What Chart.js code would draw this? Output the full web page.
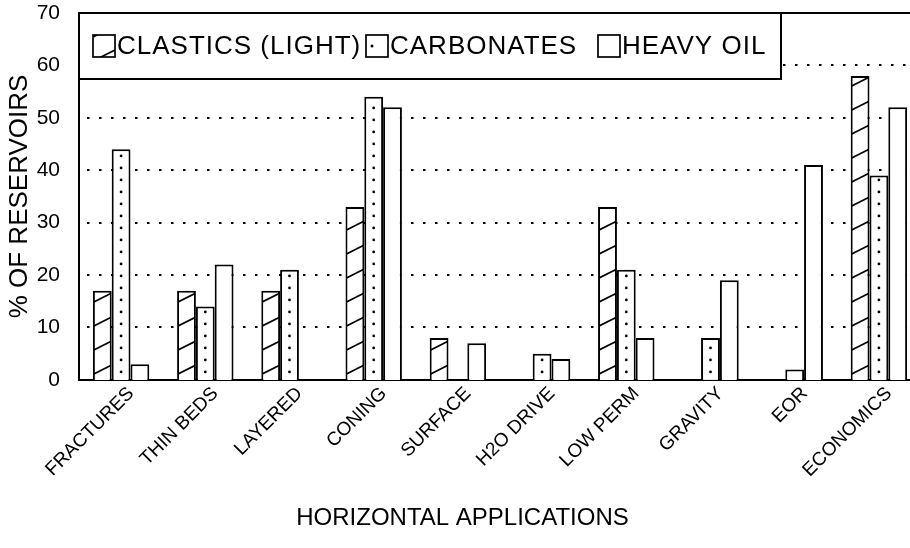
<!DOCTYPE html>
<html>
<head>
<meta charset="utf-8">
<script src="https://cdn.jsdelivr.net/npm/chart.js@4.4.1/dist/chart.umd.min.js"></script>
<style>
  html, body { margin: 0; padding: 0; background: #fff; overflow: hidden; }
  #wrap { width: 910px; height: 548px; overflow: hidden; }
</style>
</head>
<body>
<div id="wrap"><canvas id="chart" width="921" height="548"></canvas></div>
<script>
// values (% of reservoirs)
var categories = ['FRACTURES', 'THIN BEDS', 'LAYERED', 'CONING', 'SURFACE', 'H2O DRIVE', 'LOW PERM', 'GRAVITY', 'EOR', 'ECONOMICS'];
var clastics = [17, 17, 17, 33, 8, 0, 33, 0, 0, 58];
var carbonates = [44, 14, 21, 54, 0, 5, 21, 8, 2, 39];
var heavyOil = [3, 22, 0, 52, 7, 4, 8, 19, 41, 52];
var seriesNames = ['CLASTICS (LIGHT)', 'CARBONATES', 'HEAVY OIL'];
var seriesFills = ['hatch', 'dots', 'plain'];
var yMax = 70;
var yStep = 10;

var FONT = "'Liberation Sans', Arial, sans-serif";
Chart.defaults.font.family = FONT;
Chart.defaults.color = '#000';

function drawHatch(ctx, left, top, right, bottom, base) {
    ctx.save();
    ctx.beginPath();
    ctx.rect(left, top, right - left, bottom - top);
    ctx.clip();
    ctx.strokeStyle = '#000';
    ctx.lineWidth = 1.7;
    ctx.beginPath();
    var w = right - left;
    for (var y = base - 6; y > top - 20; y -= 24) {
        ctx.moveTo(left, y);
        ctx.lineTo(right, y - w * 0.5);
    }
    ctx.stroke();
    ctx.restore();
}

function drawDots(ctx, cx, top, bottom) {
    ctx.save();
    ctx.fillStyle = '#000';
    for (var y = bottom - 8; y > top + 4; y -= 12) {
        ctx.beginPath();
        ctx.arc(cx, y, 1.4, 0, Math.PI * 2);
        ctx.fill();
    }
    ctx.restore();
}

// dotted grid lines + solid frame line on top
var gridPlugin = {
    id: 'dottedGrid',
    beforeDatasetsDraw: function (chart) {
        var ctx = chart.ctx, area = chart.chartArea, y = chart.scales.y;
        ctx.save();
        ctx.strokeStyle = '#000';
        ctx.lineWidth = 2;
        ctx.setLineDash([2.5, 9.5]);
        for (var v = yStep; v < yMax; v += yStep) {
            var py = Math.round(y.getPixelForValue(v));
            ctx.beginPath();
            ctx.moveTo(area.left + 8, py);
            ctx.lineTo(area.right, py);
            ctx.stroke();
        }
        ctx.setLineDash([]);
        var top = Math.round(y.getPixelForValue(yMax));
        ctx.beginPath();
        ctx.moveTo(area.left, top);
        ctx.lineTo(area.right, top);
        ctx.stroke();
        ctx.restore();
    }
};

// hatch and dot fills inside the bars
var fillPlugin = {
    id: 'barFills',
    afterDatasetsDraw: function (chart) {
        var ctx = chart.ctx;
        chart.data.datasets.forEach(function (ds, i) {
            var meta = chart.getDatasetMeta(i);
            meta.data.forEach(function (bar) {
                var p = bar.getProps(['x', 'y', 'base', 'width'], true);
                if (p.base - p.y < 2) return;
                if (seriesFills[i] === 'hatch') {
                    drawHatch(ctx, p.x - p.width / 2 + 1, p.y + 1, p.x + p.width / 2 - 1, p.base, p.base);
                } else if (seriesFills[i] === 'dots') {
                    drawDots(ctx, p.x, p.y, p.base);
                }
            });
        });
    }
};

// boxed legend sitting in the top left of the plot
var legendPlugin = {
    id: 'boxLegend',
    afterDraw: function (chart) {
        var ctx = chart.ctx, area = chart.chartArea;
        var left = area.left, top = area.top, right = 781, bottom = 79;
        var itemX = [14, 287, 519];
        ctx.save();
        ctx.fillStyle = '#fff';
        ctx.fillRect(left, top, right - left, bottom - top);
        ctx.strokeStyle = '#000';
        ctx.lineWidth = 2;
        ctx.strokeRect(left, top, right - left, bottom - top);

        ctx.font = '26px ' + FONT;
        ctx.letterSpacing = '1px';
        ctx.textBaseline = 'middle';
        var cy = 46, s = 22;
        seriesNames.forEach(function (name, i) {
            var bx = left + itemX[i], by = cy - s / 2;
            ctx.fillStyle = '#fff';
            ctx.fillRect(bx, by, s, s);
            ctx.lineWidth = 1.7;
            ctx.strokeRect(bx, by, s, s);
            if (seriesFills[i] === 'hatch') {
                drawHatch(ctx, bx, by, bx + s, by + s, by + s + 10);
            } else if (seriesFills[i] === 'dots') {
                ctx.fillStyle = '#000';
                ctx.beginPath();
                ctx.arc(bx + 6, cy, 1.5, 0, Math.PI * 2);
                ctx.fill();
            }
            ctx.fillStyle = '#000';
            ctx.fillText(name, bx + s + 2, cy + 1);
        });
        ctx.restore();
    }
};

function barStyle(label, values) {
    return {
        label: label,
        data: values,
        backgroundColor: '#fff',
        borderColor: '#000',
        borderWidth: 2,
        barPercentage: 1,
        categoryPercentage: 0.67
    };
}

new Chart(document.getElementById('chart'), {
    type: 'bar',
    data: {
        labels: categories,
        datasets: [
            barStyle(seriesNames[0], clastics),
            barStyle(seriesNames[1], carbonates),
            barStyle(seriesNames[2], heavyOil)
        ]
    },
    options: {
        responsive: false,
        animation: false,
        devicePixelRatio: 1,
        layout: { padding: { left: 4, top: 13, right: 0, bottom: 0 } },
        plugins: {
            colors: { enabled: false },
            legend: { display: false },
            tooltip: { enabled: false },
            title: {
                display: true,
                position: 'bottom',
                text: 'HORIZONTAL APPLICATIONS',
                color: '#000',
                font: { size: 24, weight: 'normal' },
                padding: { top: 20, bottom: 15 }
            }
        },
        scales: {
            x: {
                grid: { display: false, drawTicks: false },
                border: { display: true, color: '#000', width: 2 },
                ticks: {
                    autoSkip: false,
                    minRotation: 45,
                    maxRotation: 45,
                    padding: 4,
                    labelOffset: 10,
                    font: { size: 19, lineHeight: 1 }
                },
                // the rotated first label may hang left of the plot, as in the scan
                afterFit: function (scale) {
                    scale.paddingLeft = 0;
                    scale.paddingRight = 0;
                }
            },
            y: {
                min: 0,
                max: yMax,
                grid: { display: false, drawTicks: false },
                border: { display: true, color: '#000', width: 2 },
                ticks: {
                    stepSize: yStep,
                    padding: 19,
                    font: { size: 21 }
                },
                title: {
                    display: true,
                    text: '% OF RESERVOIRS',
                    font: { size: 26 },
                    padding: { top: 0, bottom: 2 }
                },
                afterFit: function (scale) {
                    scale.width = 75;
                    scale.paddingTop = 0;
                    scale.paddingBottom = 0;
                }
            }
        }
    },
    plugins: [gridPlugin, fillPlugin, legendPlugin]
});
</script>
</body>
</html>
